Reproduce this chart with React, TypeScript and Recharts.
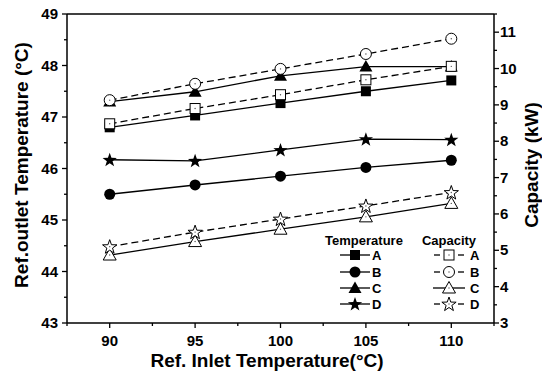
import React from 'react';
import { LineChart, Line, XAxis, YAxis, ReferenceLine } from 'recharts';

const inletTemps = [90, 95, 100, 105, 110];
// Ref. outlet temperature (°C), left axis
const tempA = [46.8, 47.03, 47.27, 47.5, 47.71];
const tempB = [45.5, 45.68, 45.85, 46.02, 46.16];
const tempC = [47.3, 47.49, 47.8, 47.98, 47.98];
const tempD = [46.17, 46.15, 46.36, 46.57, 46.56];
// Capacity (kW), right axis
const capA = [8.48, 8.9, 9.28, 9.69, 10.06];
const capB = [9.13, 9.58, 9.99, 10.4, 10.82];
const capC = [4.87, 5.24, 5.58, 5.92, 6.29];
const capD = [5.1, 5.5, 5.86, 6.22, 6.59];

const xTicks = [87.5, 90, 92.5, 95, 97.5, 100, 102.5, 105, 107.5, 110, 112.5];
const leftTicks = [43, 43.5, 44, 44.5, 45, 45.5, 46, 46.5, 47, 47.5, 48, 48.5, 49];
const rightTicks = [3, 3.5, 4, 4.5, 5, 5.5, 6, 6.5, 7, 7.5, 8, 8.5, 9, 9.5, 10, 10.5, 11, 11.5];
const seriesNames = ['A', 'B', 'C', 'D'];

const data = inletTemps.map((x, i) => ({
  x,
  tA: tempA[i],
  tB: tempB[i],
  tC: tempC[i],
  tD: tempD[i],
  cA: capA[i],
  cB: capB[i],
  cC: capC[i],
  cD: capD[i],
}));

const FONT = 'Liberation Sans, Arial, Helvetica, sans-serif';

const starPath = (cx: number, cy: number, R: number) => {
  let d = '';
  for (let k = 0; k < 10; k++) {
    const a = ((-90 + k * 36) * Math.PI) / 180;
    const r = k % 2 ? R * 0.4 : R;
    d += (k ? 'L' : 'M') + (cx + r * Math.cos(a)).toFixed(2) + ',' + (cy + r * Math.sin(a)).toFixed(2);
  }
  return d + 'Z';
};

const Marker = ({ cx, cy, shape, open }: any) => {
  if (cx == null || cy == null) return null;
  const fill = open ? '#fff' : '#000';
  const sw = open ? 1 : 0;
  let el;
  if (shape === 'square') el = <rect x={cx - 5} y={cy - 5} width={10} height={10} fill={fill} stroke="#000" strokeWidth={sw} />;
  else if (shape === 'circle') el = <circle cx={cx} cy={cy} r={5.5} fill={fill} stroke="#000" strokeWidth={sw} />;
  else if (shape === 'triangle')
    el = <polygon points={`${cx},${cy - 6.5} ${cx + 6.5},${cy + 5} ${cx - 6.5},${cy + 5}`} fill={fill} stroke="#000" strokeWidth={sw} />;
  else el = <path d={starPath(cx, cy + 0.5, 7.5)} fill={fill} stroke="#000" strokeWidth={sw} />;
  return (
    <g>
      {el}
      {open && <circle cx={cx} cy={cy} r={0.7} fill="#555" />}
    </g>
  );
};

const shapes = ['square', 'circle', 'triangle', 'star'];

const XTick = (props: any) => {
  const { x, y, payload } = props;
  const v = payload.value;
  const major = v % 5 === 0;
  return (
    <g>
      <line x1={x} x2={x} y1={y} y2={y + (major ? 5 : 3)} stroke="#000" strokeWidth={1.3} />
      {major && (
        <text x={x} y={y + 23} textAnchor="middle" fontFamily={FONT} fontWeight="bold" fontSize={15} fill="#000">
          {v}
        </text>
      )}
    </g>
  );
};

const LeftTick = (props: any) => {
  const { x, y, payload } = props;
  const v = payload.value;
  const major = Number.isInteger(v);
  return (
    <g>
      <line x1={x} x2={x - (major ? 5 : 3)} y1={y} y2={y} stroke="#000" strokeWidth={1.3} />
      {major && (
        <text x={x - 9} y={y + 5} textAnchor="end" fontFamily={FONT} fontWeight="bold" fontSize={15} fill="#000">
          {v}
        </text>
      )}
    </g>
  );
};

const RightTick = (props: any) => {
  const { x, y, payload } = props;
  const v = payload.value;
  const major = Number.isInteger(v);
  return (
    <g>
      <line x1={x} x2={x + (major ? 5 : 3)} y1={y} y2={y} stroke="#000" strokeWidth={1.3} />
      {major && (
        <text x={x + 6} y={y + 5} textAnchor="start" fontFamily={FONT} fontWeight="bold" fontSize={15} fill="#000">
          {v}
        </text>
      )}
    </g>
  );
};

// own prop names so that Recharts' cloned label props do not override them
const Title = ({ px, py, rot, text }: any) => (
  <text
    x={px}
    y={py}
    textAnchor="middle"
    fontFamily={FONT}
    fontWeight="bold"
    fontSize={19}
    fill="#000"
    transform={rot ? `rotate(${rot} ${px} ${py})` : undefined}
  >
    {text}
  </text>
);

const LegendBox = () => {
  const rows = [255, 272, 288, 304];
  return (
    <svg width={542} height={376} style={{ position: 'absolute', left: 0, top: 0, pointerEvents: 'none' }}>
      <g fontFamily={FONT} fontWeight="bold" fontSize={13} fill="#000">
        <text x={364} y={245} textAnchor="middle">Temperature</text>
        <text x={449} y={245} textAnchor="middle">Capacity</text>
        {seriesNames.map((n, i) => (
          <g key={n}>
            <line x1={340} x2={370} y1={rows[i]} y2={rows[i]} stroke="#000" strokeWidth={1.3} />
            <Marker cx={355} cy={rows[i]} shape={shapes[i]} />
            <text x={372} y={rows[i] + 5}>{n}</text>
            {i === 2 ? (
              <line x1={433} x2={465} y1={rows[i]} y2={rows[i]} stroke="#000" strokeWidth={1.3} />
            ) : (
              <g>
                <line x1={434} x2={440} y1={rows[i]} y2={rows[i]} stroke="#000" strokeWidth={1.3} />
                <line x1={458} x2={464} y1={rows[i]} y2={rows[i]} stroke="#000" strokeWidth={1.3} />
              </g>
            )}
            <Marker cx={449} cy={rows[i]} shape={shapes[i]} open />
            <text x={470} y={rows[i] + 5}>{n}</text>
          </g>
        ))}
      </g>
    </svg>
  );
};

export default function App() {
  const tempKeys = ['tA', 'tB', 'tC', 'tD'];
  const capKeys = ['cA', 'cB', 'cC', 'cD'];
  return (
    <div style={{ position: 'relative', width: 542, height: 376 }}>
      <style>{'body{margin:0}'}</style>
      <LineChart width={542} height={376} data={data} margin={{ top: 14, right: 0, left: 0, bottom: 0 }}>
        <XAxis
          dataKey="x"
          type="number"
          domain={[87.5, 112.5]}
          ticks={xTicks}
          interval={0}
          height={53}
          tickSize={0}
          tickMargin={0}
          tickLine={false}
          tick={<XTick />}
          axisLine={{ stroke: '#000', strokeWidth: 1.5 }}
          label={<Title px={267} py={367} text="Ref. Inlet Temperature(°C)" />}
        />
        <YAxis
          yAxisId="left"
          domain={[43, 49]}
          ticks={leftTicks}
          interval={0}
          width={67}
          tickSize={0}
          tickMargin={0}
          tickLine={false}
          tick={<LeftTick />}
          axisLine={{ stroke: '#000', strokeWidth: 1.5 }}
          label={<Title px={28} py={165} rot={-90} text="Ref.outlet Temperature (°C)" />}
        />
        <YAxis
          yAxisId="right"
          orientation="right"
          domain={[3, 11.5]}
          ticks={rightTicks}
          interval={0}
          width={48}
          tickSize={0}
          tickMargin={0}
          tickLine={false}
          tick={<RightTick />}
          axisLine={{ stroke: '#000', strokeWidth: 1.5 }}
          label={<Title px={538} py={165} rot={-90} text="Capacity (kW)" />}
        />
        <ReferenceLine yAxisId="left" y={49} stroke="#000" strokeWidth={1.5} />
        {tempKeys.map((k, i) => (
          <Line
            key={k}
            yAxisId="left"
            dataKey={k}
            stroke="#000"
            strokeWidth={1.3}
            dot={<Marker shape={shapes[i]} />}
            isAnimationActive={false}
          />
        ))}
        {capKeys.map((k, i) => (
          <Line
            key={k}
            yAxisId="right"
            dataKey={k}
            stroke="#000"
            strokeWidth={1.3}
            strokeDasharray={i === 2 ? undefined : '7 4'}
            dot={<Marker shape={shapes[i]} open />}
            isAnimationActive={false}
          />
        ))}
      </LineChart>
      <LegendBox />
    </div>
  );
}
